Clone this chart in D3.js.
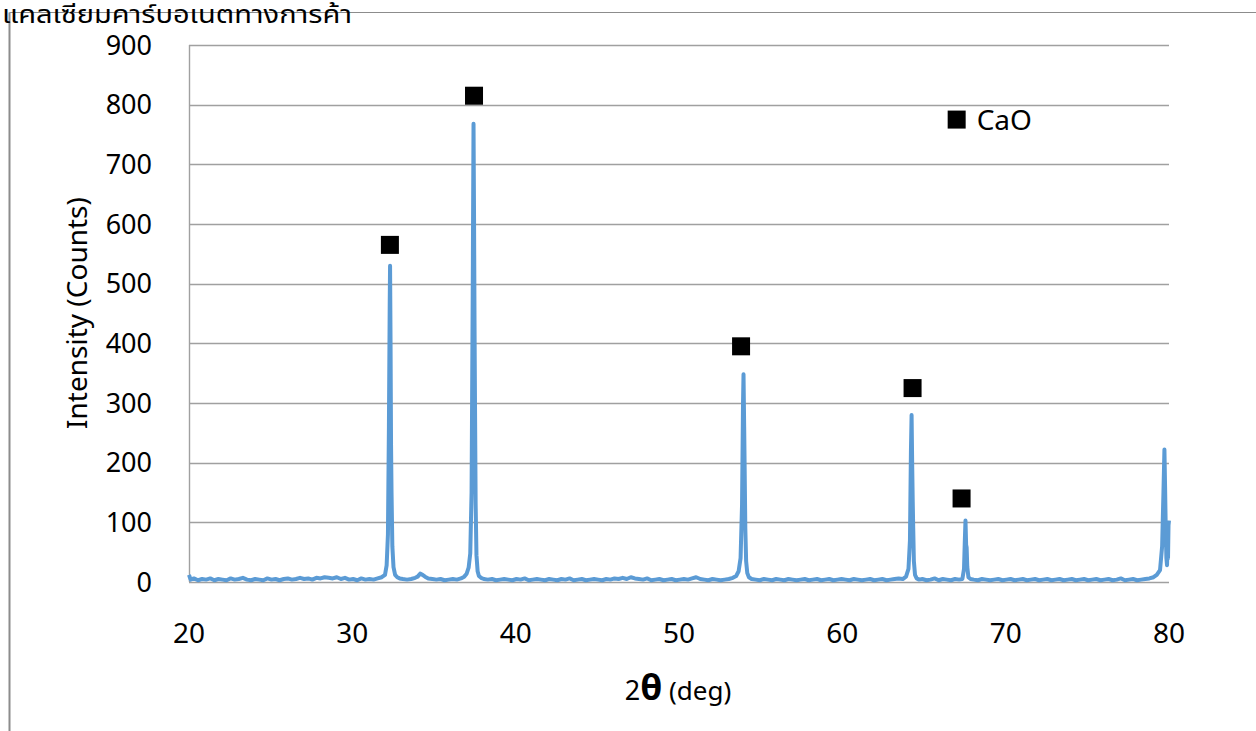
<!DOCTYPE html>
<html>
<head>
<meta charset="utf-8">
<script src="https://cdn.jsdelivr.net/npm/d3@7"></script>
<style>
body { margin: 0; background: #fff; }
text { font-family: "Noto Sans", "Open Sans", sans-serif; fill: #000; }
</style>
</head>
<body>
<script>

// XRD pattern (2theta in deg, intensity in counts)
var twoTheta = [
 20.0, 20.1, 20.3, 20.55, 20.8, 21.05, 21.3, 21.55, 21.8, 22.05, 22.3, 22.55, 22.8, 23.05, 23.3, 23.55, 23.8,
 24.05, 24.3, 24.55, 24.8, 25.05, 25.3, 25.55, 25.8, 26.05, 26.3, 26.55, 26.8, 27.05, 27.3, 27.55, 27.8,
 28.05, 28.3, 28.55, 28.8, 29.05, 29.3, 29.55, 29.8, 30.05, 30.3, 30.55, 30.8, 31.05, 31.3, 31.55, 31.8,
 32.0, 32.1, 32.18, 32.24, 32.29, 32.31, 32.34, 32.37, 32.4, 32.45, 32.52, 32.62, 32.75, 32.9, 33.1, 33.35,
 33.6, 33.85, 34.0, 34.15, 34.3, 34.45, 34.65, 34.9, 35.15, 35.4, 35.65, 35.9, 36.15, 36.4, 36.65, 36.85,
 37.0, 37.12, 37.22, 37.3, 37.37, 37.42, 37.45, 37.48, 37.51, 37.55, 37.6, 37.67, 37.75, 37.88, 38.05, 38.3,
 38.55, 38.8, 39.05, 39.3, 39.55, 39.8, 40.05, 40.3, 40.55, 40.8, 41.05, 41.3, 41.55, 41.8, 42.05, 42.3,
 42.55, 42.8, 43.05, 43.3, 43.55, 43.8, 44.05, 44.3, 44.55, 44.8, 45.05, 45.3, 45.55, 45.8, 46.05, 46.3,
 46.55, 46.8, 47.05, 47.3, 47.55, 47.8, 48.05, 48.3, 48.55, 48.8, 49.05, 49.3, 49.55, 49.8, 50.05, 50.3,
 50.55, 50.8, 51.05, 51.3, 51.55, 51.8, 52.05, 52.3, 52.55, 52.8, 53.05, 53.3, 53.5, 53.65, 53.77, 53.86,
 53.92, 53.95, 53.99, 54.02, 54.06, 54.11, 54.18, 54.28, 54.45, 54.7, 54.95, 55.2, 55.45, 55.7, 55.95, 56.2,
 56.45, 56.7, 56.95, 57.2, 57.45, 57.7, 57.95, 58.2, 58.45, 58.7, 58.95, 59.2, 59.45, 59.7, 59.95, 60.2,
 60.45, 60.7, 60.95, 61.2, 61.45, 61.7, 61.95, 62.2, 62.45, 62.7, 62.95, 63.2, 63.45, 63.7, 63.9, 64.05,
 64.14, 64.2, 64.24, 64.28, 64.31, 64.34, 64.38, 64.45, 64.55, 64.7, 64.9, 65.15, 65.4, 65.65, 65.9, 66.15,
 66.4, 66.65, 66.9, 67.15, 67.35, 67.45, 67.5, 67.54, 67.58, 67.61, 67.65, 67.72, 67.85, 68.05, 68.3, 68.55,
 68.8, 69.05, 69.3, 69.55, 69.8, 70.05, 70.3, 70.55, 70.8, 71.05, 71.3, 71.55, 71.8, 72.05, 72.3, 72.55,
 72.8, 73.05, 73.3, 73.55, 73.8, 74.05, 74.3, 74.55, 74.8, 75.05, 75.3, 75.55, 75.8, 76.05, 76.3, 76.55,
 76.8, 77.05, 77.3, 77.55, 77.8, 78.05, 78.3, 78.55, 78.8, 79.05, 79.25, 79.45, 79.58, 79.66, 79.72, 79.76,
 79.8, 79.84, 79.88, 79.91, 79.94, 79.97, 80.0
];
var counts = [
 12, 4, 6, 3, 5, 4, 6, 3, 5, 4, 3, 6, 4, 5, 7, 4, 3,
 5, 4, 3, 6, 4, 5, 3, 5, 6, 4, 5, 7, 5, 6, 4, 7,
 6, 8, 7, 6, 8, 5, 7, 4, 5, 3, 6, 4, 5, 4, 6, 8,
 12, 28, 80, 260, 470, 530, 400, 230, 150, 60, 25, 12, 8, 6, 5, 4,
 5, 7, 9, 14, 12, 9, 6, 5, 4, 5, 3, 4, 5, 4, 6, 9,
 14, 24, 48, 150, 480, 768, 620, 440, 300, 130, 45, 18, 10, 7, 5, 4,
 5, 3, 4, 5, 4, 3, 5, 4, 6, 3, 4, 5, 4, 3, 5, 4,
 3, 5, 4, 6, 3, 4, 5, 3, 4, 5, 4, 3, 5, 4, 6, 5,
 7, 5, 8, 6, 5, 4, 6, 3, 4, 5, 3, 4, 5, 3, 4, 5,
 4, 6, 8, 5, 4, 3, 5, 4, 3, 4, 5, 7, 10, 18, 40, 130,
 300, 348, 260, 190, 90, 35, 15, 8, 5, 4, 3, 5, 4, 3, 5, 4,
 3, 5, 4, 3, 4, 5, 3, 4, 5, 3, 4, 5, 3, 4, 5, 4,
 3, 5, 4, 3, 4, 5, 3, 4, 5, 3, 4, 5, 6, 5, 9, 22,
 70, 220, 280, 190, 135, 90, 35, 12, 6, 4, 5, 3, 4, 6, 3, 5,
 4, 3, 5, 4, 5, 22, 70, 103, 62, 58, 25, 8, 5, 4, 3, 5,
 4, 3, 4, 5, 3, 4, 5, 3, 4, 5, 3, 4, 5, 3, 4, 5,
 3, 4, 5, 3, 4, 5, 3, 4, 5, 3, 4, 5, 3, 4, 5, 3,
 4, 6, 3, 4, 5, 3, 4, 5, 6, 8, 12, 20, 60, 150, 222, 160,
 90, 40, 28, 60, 40, 95, 103
];

var xTicks = [20, 30, 40, 50, 60, 70, 80];
var yTicks = [0, 100, 200, 300, 400, 500, 600, 700, 800, 900];

// CaO peak markers
var markerX = [32.3, 37.45, 53.8, 64.3, 67.3];
var markerY = [565, 815, 395, 325, 140];
var legendX = 67.0, legendY = 775, legendLabel = "CaO";

var title = "แคลเซียมคาร์บอเนตทางการค้า";

var width = 1256, height = 731;
var svg = d3.select("body").append("svg")
    .attr("width", width)
    .attr("height", height);

// outer frame (top and left edge only)
svg.append("line").attr("x1", 9.5).attr("x2", width).attr("y1", 12.5).attr("y2", 12.5)
    .attr("stroke", "#8c8c8c").attr("stroke-width", 1);
svg.append("line").attr("x1", 9.5).attr("x2", 9.5).attr("y1", 12.5).attr("y2", height)
    .attr("stroke", "#8c8c8c").attr("stroke-width", 2);

svg.append("text").attr("x", 2).attr("y", 23)
    .style("font-family", "'Noto Sans Thai', 'Noto Sans Thai UI', 'Noto Sans', sans-serif")
    .style("font-size", "25px")
    .attr("textLength", 350)
    .attr("lengthAdjust", "spacingAndGlyphs")
    .text(title);

var x = d3.scaleLinear().domain([20, 80]).range([189, 1169]);
var y = d3.scaleLinear().domain([0, 900]).range([582, 45]);

// gridlines
svg.append("g").selectAll("line").data(yTicks).enter().append("line")
    .attr("x1", 189).attr("x2", 1169)
    .attr("y1", d => Math.round(y(d)) + 0.5).attr("y2", d => Math.round(y(d)) + 0.5)
    .attr("stroke", "#a0a0a0").attr("stroke-width", 1.4);

// left axis line
svg.append("line").attr("x1", 189.5).attr("x2", 189.5).attr("y1", 45).attr("y2", 582)
    .attr("stroke", "#a0a0a0").attr("stroke-width", 1.4);

// y tick labels
svg.append("g").selectAll("text").data(yTicks).enter().append("text")
    .attr("x", 152).attr("y", d => y(d) + 9.5)
    .attr("text-anchor", "end")
    .style("font-size", "27px")
    .text(d => d);

// x tick labels
svg.append("g").selectAll("text").data(xTicks).enter().append("text")
    .attr("x", d => x(d)).attr("y", 643)
    .attr("text-anchor", "middle")
    .style("font-size", "28px")
    .text(d => d);

// axis titles
svg.append("text")
    .attr("transform", "translate(87,313) rotate(-90)")
    .attr("text-anchor", "middle")
    .style("font-size", "28px")
    .text("Intensity (Counts)");

var xt = svg.append("text").attr("x", 678).attr("y", 700).attr("text-anchor", "middle");
xt.append("tspan").style("font-size", "27px").text("2");
xt.append("tspan").style("font-size", "36px").style("font-weight", "bold").text("θ");
xt.append("tspan").style("font-size", "26px").text(" (deg)");

// the pattern
var pts = twoTheta.map((t, i) => [t, counts[i]]);
var line = d3.line().x(d => x(d[0])).y(d => y(d[1]));
svg.append("path").datum(pts)
    .attr("d", line)
    .attr("fill", "none")
    .attr("stroke", "#5b9bd5")
    .attr("stroke-width", 4)
    .attr("stroke-linejoin", "round");

// peak markers
svg.append("g").selectAll("rect").data(markerX).enter().append("rect")
    .attr("x", d => x(d) - 9).attr("y", (d, i) => y(markerY[i]) - 9)
    .attr("width", 18).attr("height", 18)
    .attr("fill", "#000");

svg.append("rect").attr("x", x(legendX) - 9).attr("y", y(legendY) - 9)
    .attr("width", 18).attr("height", 18).attr("fill", "#000");
svg.append("text").attr("x", x(legendX) + 20).attr("y", y(legendY) + 10)
    .style("font-size", "28px")
    .text(legendLabel);

</script>
</body>
</html>
